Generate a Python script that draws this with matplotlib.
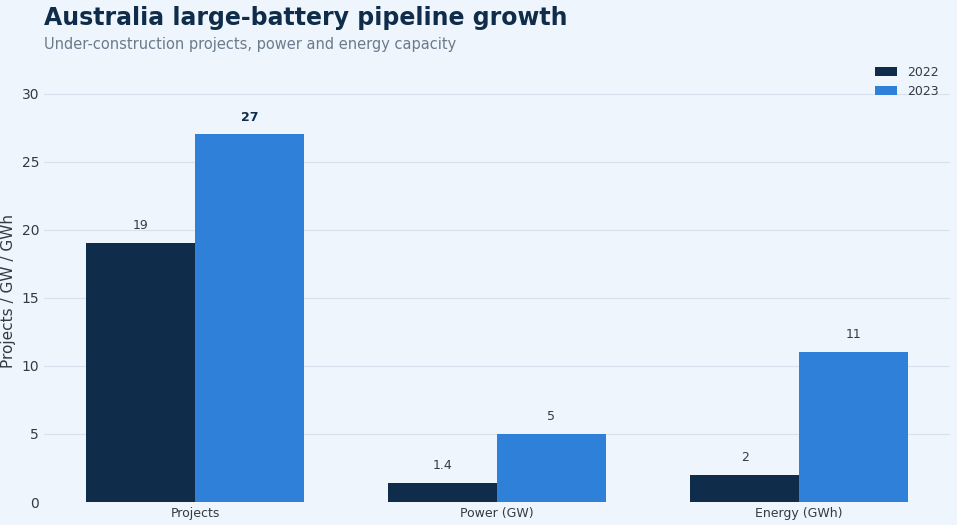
import matplotlib
matplotlib.use("Agg")
import matplotlib.pyplot as plt
import numpy as np

categories = ["Projects", "Power (GW)", "Energy (GWh)"]
vals_2022 = [19, 1.4, 2]
vals_2023 = [27, 5, 11]
labels_2022 = ["19", "1.4", "2"]
labels_2023 = ["27", "5", "11"]

bg = "#eef5fc"
dark = "#0f2d4a"
blue = "#2f80d8"

fig = plt.figure(figsize=(9.57, 5.25), dpi=100, facecolor=bg)
ax = fig.add_axes([44/957, 1 - 502/525, 906/957, (502-80)/525], facecolor=bg)

x = np.arange(len(categories))
w = 0.36
ax.bar(x - w/2, vals_2022, w, color=dark, label="2022", zorder=3)
ax.bar(x + w/2, vals_2023, w, color=blue, label="2023", zorder=3)

for i in range(len(categories)):
    ax.text(x[i] - w/2, vals_2022[i] + 0.8, labels_2022[i], ha="center", va="bottom",
            fontsize=9, color="#333a44")
    ax.text(x[i] + w/2, vals_2023[i] + 0.8, labels_2023[i], ha="center", va="bottom",
            fontsize=9, color=dark if i == 0 else "#333a44",
            fontweight="bold" if i == 0 else "normal")

ax.set_xlim(-0.5, 2.5)
ax.set_ylim(0, 31)
ax.set_yticks([0, 5, 10, 15, 20, 25, 30])
ax.set_xticks(x)
ax.set_xticklabels(categories, fontsize=9, color="#333a44")
ax.tick_params(axis="y", labelsize=10, colors="#333a44", length=0)
ax.tick_params(axis="x", length=0)
ax.grid(axis="y", color="#d8e2ee", linewidth=0.8, zorder=0)
for s in ax.spines.values():
    s.set_visible(False)
ax.set_ylabel("Projects / GW / GWh", fontsize=11, color="#333a44")

leg = ax.legend(loc="upper right", frameon=False, fontsize=9, handlelength=1.8,
                handleheight=0.7, bbox_to_anchor=(1.0, 1.06))
for t in leg.get_texts():
    t.set_color("#333a44")

fig.text(44/957, 1 - 18/525, "Australia large-battery pipeline growth", fontsize=17,
         fontweight="bold", color=dark, va="center")
fig.text(44/957, 1 - 44/525, "Under-construction projects, power and energy capacity",
         fontsize=10.5, color="#6b7a8c", va="center")

fig.savefig("out.png", dpi=100, facecolor=bg)
